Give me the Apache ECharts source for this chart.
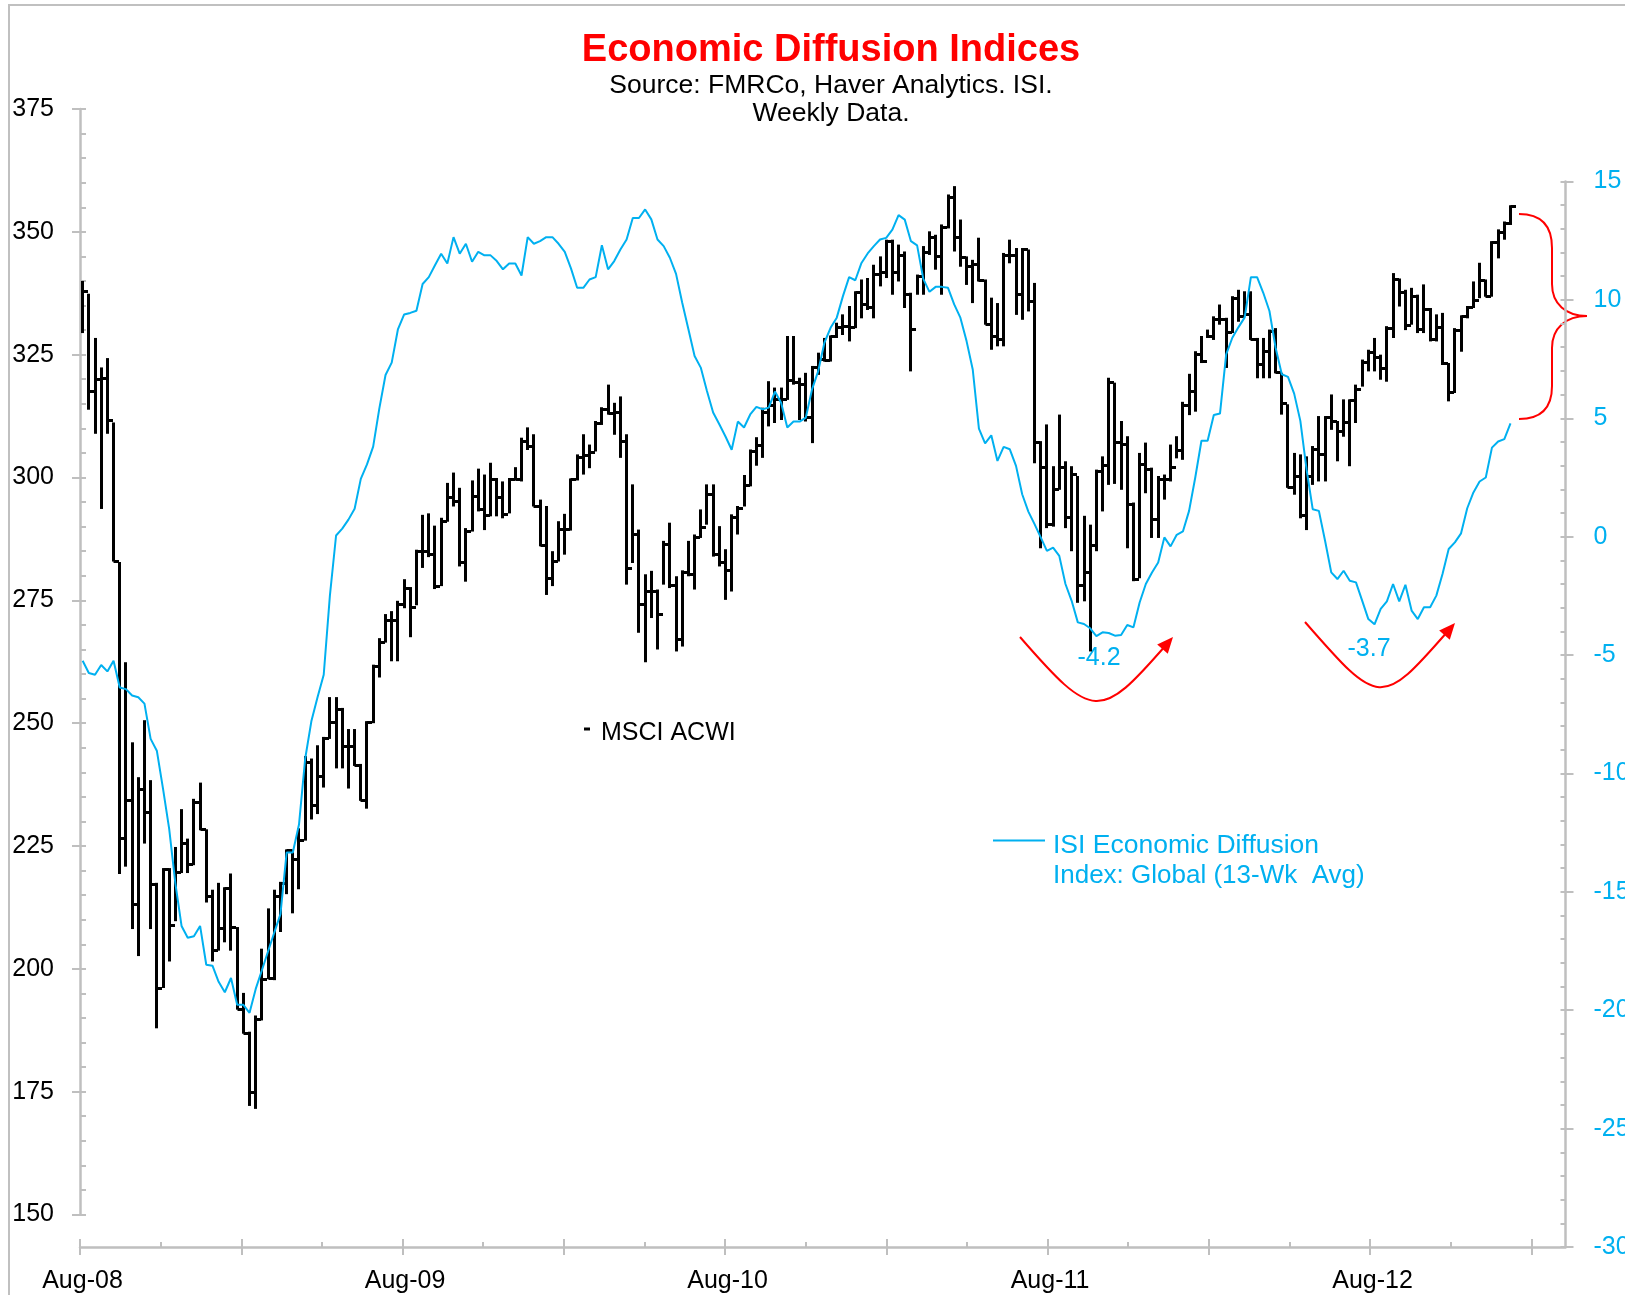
<!DOCTYPE html>
<html><head><meta charset="utf-8">
<script src="https://cdn.jsdelivr.net/npm/echarts@6/dist/echarts.min.js"></script>
<style>html,body{margin:0;padding:0;background:#fff}#c{width:1625px;height:1295px}</style>
</head><body><div id="c"></div>
<script>
// ---------- data ----------
const weekStart = '2008-08-04';          // first weekly observation
const axisOrigin = '2008-08-01';         // "Aug-08" tick
const xAxisMaxMonths = 55.27;            // right end of the time axis (months after Aug-08)

const acwiHigh = [
339.8,337.2,328.2,322.2,324.1,311.0,282.6,262.2,245.9,238.8,
250.4,238.2,217.3,220.3,220.3,224.6,232.3,226.3,234.4,237.7,
228.2,215.9,217.3,216.4,219.2,208.3,194.9,187.0,190.3,203.9,
212.1,215.9,217.5,224.1,224.1,228.4,243.1,242.6,245.3,247.0,
255.1,255.1,252.9,248.6,248.6,241.5,250.2,261.7,267.1,272.0,
272.6,274.7,279.1,277.5,285.1,292.2,292.5,290.0,291.6,298.7,
300.8,297.7,289.5,299.2,301.6,300.4,302.8,299.7,299.0,299.7,
301.9,307.9,310.0,308.6,295.3,294.0,284.8,290.9,292.4,299.6,
304.5,308.6,306.5,311.3,314.1,318.7,315.0,316.3,308.6,298.4,
289.2,280.1,280.8,277.0,286.9,290.6,279.7,280.9,286.9,288.2,
293.3,298.4,298.4,289.9,285.2,292.3,294.0,300.3,305.5,308.0,
314.0,319.4,318.1,318.1,328.6,328.6,320.1,321.1,322.5,325.2,
328.2,328.7,331.3,333.0,334.7,337.7,340.1,340.4,343.1,344.8,
348.2,348.2,347.2,345.8,337.4,341.1,346.9,349.9,349.2,351.3,
357.4,359.1,352.3,344.8,344.1,348.6,340.1,336.4,335.3,345.5,
348.2,346.5,346.5,346.2,339.4,307.2,310.6,302.1,312.6,303.1,
302.1,300.1,292.0,290.2,301.4,304.1,320.1,319.1,311.3,308.2,
294.7,304.8,306.9,301.8,300.1,300.4,306.5,308.2,315.2,320.9,
325.5,328.6,329.9,332.6,335.0,332.3,336.7,338.0,337.7,337.7,
328.2,328.2,329.9,330.2,321.1,314.7,304.8,304.5,304.1,306.2,
312.3,312.3,316.7,311.3,315.7,315.7,318.7,323.8,325.8,328.2,
324.8,330.6,341.4,340.3,338.0,338.4,337.0,339.1,334.3,333.0,
333.3,323.1,330.2,332.8,334.7,339.7,343.5,340.1,347.9,350.3,
351.9,355.2];

const acwiLow = [
329.6,314.0,309.1,293.8,309.1,283.1,219.5,221.0,208.3,202.8,
225.7,208.3,188.1,196.3,201.7,209.9,219.7,219.7,221.3,228.4,
213.7,201.7,203.9,205.6,203.9,191.9,187.0,172.3,171.7,189.7,
198.1,197.9,207.7,215.4,211.5,216.4,226.3,230.6,231.7,237.1,
247.0,241.0,241.0,236.9,241.5,234.4,232.8,250.2,259.5,266.6,
262.8,262.8,273.6,267.7,274.2,281.8,284.0,277.5,278.1,291.2,
294.3,282.1,279.0,289.2,293.3,289.5,292.3,292.3,291.9,292.9,
299.6,299.4,305.8,294.3,286.2,276.3,278.1,283.1,284.5,289.4,
299.6,300.8,302.1,305.5,310.9,313.0,308.9,304.2,278.4,282.8,
268.6,262.6,271.6,265.2,278.4,277.7,264.8,265.8,280.1,277.4,
287.9,290.6,284.1,282.1,275.3,277.0,288.6,294.3,298.4,302.6,
304.2,310.6,311.3,311.9,316.0,319.1,311.9,311.6,307.2,321.1,
323.8,323.8,328.6,329.2,327.9,330.6,332.6,334.3,332.6,339.1,
340.8,337.4,340.1,334.7,321.8,337.4,337.4,345.5,342.5,337.4,
350.9,346.2,343.1,339.4,335.7,340.1,331.3,326.2,326.9,326.9,
343.8,333.3,332.3,334.0,303.1,285.8,289.9,290.2,297.7,289.9,
285.2,274.7,275.0,264.8,285.2,293.3,298.7,298.9,297.7,285.8,
279.1,279.7,297.0,287.9,287.9,295.7,299.4,304.1,303.8,312.9,
313.6,323.5,328.6,328.2,331.3,322.5,329.6,331.9,333.3,328.2,
320.4,320.4,320.4,321.4,313.0,298.1,296.7,291.9,289.5,298.7,
299.4,299.4,309.9,303.5,308.5,302.5,311.3,318.7,321.8,321.8,
320.1,319.7,328.6,335.0,330.2,331.3,329.6,329.6,327.9,327.9,
323.1,315.7,317.4,325.8,332.6,334.7,336.7,337.0,337.0,344.8,
348.6,351.6];

const acwiClose = [
338.0,317.6,320.0,320.2,311.8,283.1,226.6,234.4,213.2,236.6,
231.9,217.3,196.0,220.3,209.0,219.7,225.7,221.3,233.9,228.4,
214.8,203.9,208.3,216.4,208.6,191.9,187.0,175.0,189.7,197.9,
198.1,214.8,217.5,224.1,222.4,226.3,242.0,233.3,239.3,247.0,
250.2,252.9,245.3,245.3,241.5,234.4,250.2,261.7,266.6,270.9,
270.9,274.2,277.5,273.6,285.1,285.1,284.5,278.0,291.2,296.0,
295.3,282.8,289.2,296.2,293.5,292.4,299.6,296.0,292.6,299.7,
299.6,307.5,306.5,294.3,286.3,279.5,283.1,289.5,289.5,299.6,
304.1,304.5,305.2,311.1,314.0,313.2,313.4,307.5,281.5,288.6,
274.3,277.0,277.0,272.3,286.5,278.1,267.2,280.8,280.4,287.9,
289.9,296.7,284.5,282.9,281.1,292.0,293.8,298.5,305.3,306.7,
313.3,314.7,316.0,315.9,319.8,319.5,319.1,312.3,322.5,324.1,
324.0,328.7,330.6,330.9,330.6,337.7,335.3,334.7,341.4,341.8,
348.2,341.8,345.2,337.4,330.2,341.1,345.8,348.9,345.0,350.9,
357.0,348.9,344.8,343.1,343.5,340.1,331.3,328.9,328.2,345.2,
345.2,337.4,346.5,336.0,307.2,302.1,290.6,297.7,302.1,292.0,
300.8,278.1,280.8,286.2,301.4,302.5,319.4,307.2,306.9,294.7,
279.4,302.8,301.8,291.6,299.7,299.7,302.1,305.5,314.7,317.7,
325.2,323.8,328.8,332.3,332.2,329.6,336.5,332.9,333.3,328.2,
323.1,325.8,329.9,321.4,315.2,298.1,300.4,292.3,300.4,305.8,
304.8,312.3,311.4,309.5,311.3,315.7,318.1,323.5,325.6,324.5,
322.2,330.4,340.3,337.7,331.0,336.9,330.2,334.3,328.1,330.6,
323.3,317.4,330.1,332.8,334.7,336.2,340.1,337.0,347.9,349.9,
351.8,355.2];

const isiDiffusion = [
-5.24,-5.76,-5.83,-5.42,-5.69,-5.24,-6.37,-6.44,-6.71,-6.78,
-7.05,-8.54,-9.04,-10.64,-12.34,-14.64,-16.44,-16.94,-16.88,-16.44,
-18.08,-18.12,-18.80,-19.24,-18.64,-19.77,-19.77,-20.11,-19.10,-18.31,
-17.51,-16.72,-15.94,-13.34,-13.34,-12.16,-9.38,-7.80,-6.78,-5.83,
-2.49,0.05,0.34,0.72,1.18,2.44,3.05,3.80,5.42,6.83,
7.35,8.75,9.38,9.45,9.54,10.67,10.96,11.46,11.95,11.54,
12.65,11.95,12.37,11.61,12.03,11.88,11.88,11.64,11.29,11.54,
11.54,11.03,12.65,12.37,12.48,12.65,12.65,12.37,12.03,11.33,
10.51,10.51,10.86,10.96,12.31,11.29,11.64,12.13,12.55,13.46,
13.46,13.82,13.40,12.55,12.27,11.78,11.10,9.88,8.76,7.63,
7.14,6.15,5.24,4.75,4.23,3.67,4.86,4.61,5.16,5.48,
5.38,5.45,6.13,5.66,4.61,4.86,4.86,5.03,6.22,6.99,
8.19,8.82,9.25,10.16,10.96,10.83,11.56,11.96,12.27,12.55,
12.62,12.97,13.58,13.39,12.48,12.30,10.89,10.34,10.55,10.55,
10.51,9.81,9.25,8.26,7.06,4.56,3.94,4.28,3.20,3.79,
3.69,2.99,1.79,1.06,0.53,-0.03,-0.60,-0.46,-0.81,-2.00,
-2.71,-3.62,-3.69,-3.87,-4.20,-4.04,-4.07,-4.18,-4.15,-3.73,
-3.83,-2.78,-2.00,-1.51,-1.09,-0.03,-0.41,0.08,0.22,1.09,
2.50,4.05,4.05,5.14,5.20,7.70,8.40,8.85,9.26,10.96,
10.96,10.30,9.53,7.98,6.86,6.75,6.04,4.89,2.85,1.16,
1.09,-0.17,-1.51,-1.79,-1.44,-1.86,-1.93,-2.70,-3.48,-3.70,
-3.05,-2.73,-2.00,-2.73,-2.03,-3.12,-3.48,-2.98,-2.98,-2.49,
-1.58,-0.52,-0.24,0.14,1.20,1.87,2.33,2.50,3.76,4.02,
4.12,4.78];

const xTickLabels = ['Aug-08','Aug-09','Aug-10','Aug-11','Aug-12'];
const xLabelMonths = [0,12,24,36,48];
const xMajorTickMonths = [0,6,12,18,24,30,36,42,48,54];
const xMinorTickMonths = [0,3,6,9,12,15,18,21,24,27,30,33,36,39,42,45,48,51,54];

// ---------- helpers ----------
const DAY = 86400000, MONTH_DAYS = 365.25 / 12;
const t0 = Date.parse(axisOrigin + 'T00:00:00Z');
const tStart = Date.parse(weekStart + 'T00:00:00Z');
const weekX = i => ((tStart - t0) / DAY + 7 * i) / MONTH_DAYS;

const hlcData = acwiHigh.map((h, i) => [weekX(i), h, acwiLow[i], acwiClose[i]]);
const isiData = isiDiffusion.map((v, i) => [weekX(i), v]);

const GRAY = '#BFBFBF', BLUE = '#00B0F0', RED = '#FF0000';
const FONT = "'Liberation Sans', Arial, sans-serif";

const chart = echarts.init(document.getElementById('c'), null, {renderer: 'canvas'});

const baseX = (grid) => ({
  type: 'value', gridIndex: grid, min: 0, max: xAxisMaxMonths, position: 'bottom',
  axisLine: {show: false, onZero: false}, axisTick: {show: false}, axisLabel: {show: false}, splitLine: {show: false}
});

const redCurve = (x1, y1, c1x, c1y, c2x, c2y, x2, y2) => ({
  type: 'bezierCurve',
  shape: {x1: x1, y1: y1, cpx1: c1x, cpy1: c1y, cpx2: c2x, cpy2: c2y, x2: x2, y2: y2},
  style: {fill: null, stroke: RED, lineWidth: 2}
});
const redLine = (x1, y1, x2, y2) => ({
  type: 'line', shape: {x1: x1, y1: y1, x2: x2, y2: y2}, style: {stroke: RED, lineWidth: 2}
});

const tickStyle = {color: GRAY, width: 2};

const option = {
  animation: false,
  backgroundColor: '#fff',
  grid: [
    {left: 80, right: 59.5, top: 109, height: 1105.5, containLabel: false, outerBoundsMode: 'none'},
    {left: 80, right: 59.5, top: 181.5, height: 1065.5, containLabel: false, outerBoundsMode: 'none'}
  ],
  xAxis: [
    baseX(0),
    Object.assign(baseX(1), {
      axisLine: {show: true, onZero: false, lineStyle: {color: GRAY, width: 2.5}},
      axisTick: {show: true, inside: false, length: 8, customValues: xMajorTickMonths, lineStyle: tickStyle},
      axisLabel: {show: true, customValues: xLabelMonths, margin: 22, padding: [0, 0, 0, 5],
        color: '#000', fontSize: 25, fontFamily: FONT,
        formatter: v => xTickLabels[xLabelMonths.indexOf(Math.round(v))] || ''}
    }),
    Object.assign(baseX(1), {
      axisTick: {show: true, inside: true, length: 8, customValues: xMajorTickMonths, lineStyle: tickStyle}
    }),
    Object.assign(baseX(1), {
      axisTick: {show: true, inside: true, length: 5, customValues: xMinorTickMonths, lineStyle: tickStyle}
    })
  ],
  yAxis: [
    {
      type: 'value', gridIndex: 0, position: 'left', min: 150, max: 375, interval: 25,
      axisLine: {show: true, onZero: false, lineStyle: {color: GRAY, width: 2.5}},
      axisTick: {show: true, inside: false, length: 8, lineStyle: tickStyle},
      axisLabel: {show: true, margin: 26, color: '#000', fontSize: 25, fontFamily: FONT},
      splitLine: {show: false}
    },
    {
      type: 'value', gridIndex: 0, position: 'left', min: 150, max: 375, interval: 5,
      axisLine: {show: false, onZero: false},
      axisTick: {show: true, inside: true, length: 6, lineStyle: tickStyle},
      axisLabel: {show: false}, splitLine: {show: false}
    },
    {
      type: 'value', gridIndex: 1, position: 'right', min: -30, max: 15, interval: 5,
      axisLine: {show: true, onZero: false, lineStyle: {color: GRAY, width: 2.5}},
      axisTick: {show: true, inside: false, length: 8, lineStyle: tickStyle},
      axisLabel: {show: true, margin: 28, color: BLUE, fontSize: 25, fontFamily: FONT},
      splitLine: {show: false}
    },
    {
      type: 'value', gridIndex: 1, position: 'right', min: -30, max: 15, interval: 1,
      axisLine: {show: false, onZero: false},
      axisTick: {show: true, inside: true, length: 5, lineStyle: tickStyle},
      axisLabel: {show: false}, splitLine: {show: false}
    }
  ],
  series: [
    {
      name: 'MSCI ACWI', type: 'custom', xAxisIndex: 0, yAxisIndex: 0,
      data: hlcData, encode: {x: 0, y: [1, 2, 3]}, z: 2,
      renderItem: function (params, api) {
        const x = api.value(0);
        const pH = api.coord([x, api.value(1)]);
        const pL = api.coord([x, api.value(2)]);
        const pC = api.coord([x, api.value(3)]);
        const px = Math.floor(pH[0]) + 0.5;
        return {
          type: 'group',
          children: [
            {type: 'line', shape: {x1: px, y1: pH[1] - 1, x2: px, y2: pL[1] + 1},
             style: {stroke: '#000', lineWidth: 3}},
            {type: 'line', shape: {x1: px, y1: Math.round(pC[1]) + 0.5, x2: px + 5.5, y2: Math.round(pC[1]) + 0.5},
             style: {stroke: '#000', lineWidth: 3}}
          ]
        };
      }
    },
    {
      name: 'ISI Economic Diffusion Index: Global (13-Wk Avg)', type: 'line',
      xAxisIndex: 1, yAxisIndex: 2, data: isiData, symbol: 'none', showSymbol: false, z: 3,
      lineStyle: {color: BLUE, width: 2}
    }
  ],
  graphic: [
    {type: 'rect', silent: true, z: -10, shape: {x: 9, y: 5, width: 1700, height: 1400},
     style: {fill: null, stroke: '#C0C0C0', lineWidth: 2}},
    {type: 'text', x: 831, y: 50.5, style: {text: 'Economic Diffusion Indices', fill: RED,
      font: "bold 38px " + FONT, align: 'center', verticalAlign: 'middle'}},
    {type: 'text', x: 831, y: 85.5, style: {text: 'Source: FMRCo, Haver Analytics. ISI.', fill: '#000',
      font: "26.5px " + FONT, align: 'center', verticalAlign: 'middle'}},
    {type: 'text', x: 831, y: 114, style: {text: 'Weekly Data.', fill: '#000',
      font: "26.5px " + FONT, align: 'center', verticalAlign: 'middle'}},
    // legend: MSCI ACWI
    {type: 'rect', shape: {x: 584, y: 727.5, width: 6, height: 3}, style: {fill: '#000'}},
    {type: 'text', x: 601, y: 733, style: {text: 'MSCI ACWI', fill: '#000',
      font: "25px " + FONT, align: 'left', verticalAlign: 'middle'}},
    // legend: ISI
    {type: 'line', shape: {x1: 993, y1: 840.5, x2: 1045, y2: 840.5}, style: {stroke: BLUE, lineWidth: 2}},
    {type: 'text', x: 1053, y: 845.5, style: {text: 'ISI Economic Diffusion', fill: BLUE,
      font: "26.5px " + FONT, align: 'left', verticalAlign: 'middle'}},
    {type: 'text', x: 1053, y: 875.5, style: {text: 'Index: Global (13-Wk  Avg)', fill: BLUE,
      font: "26px " + FONT, align: 'left', verticalAlign: 'middle'}},
    // annotations
    {type: 'text', x: 1099, y: 658.5, style: {text: '-4.2', fill: BLUE,
      font: "25px " + FONT, align: 'center', verticalAlign: 'middle'}},
    {type: 'text', x: 1369, y: 649.5, style: {text: '-3.7', fill: BLUE,
      font: "25px " + FONT, align: 'center', verticalAlign: 'middle'}},
    redCurve(1020, 637, 1093, 721, 1100, 721, 1166, 645),
    {type: 'polygon', shape: {points: [[1173, 637], [1167.8, 653.7], [1157.2, 644.5]]}, style: {fill: RED}},
    redCurve(1305, 622, 1379, 707, 1381, 708, 1448, 631),
    {type: 'polygon', shape: {points: [[1455, 623], [1449.8, 639.7], [1439.2, 630.5]]}, style: {fill: RED}},
    // brace
    redCurve(1519, 214, 1541, 214, 1552, 226, 1552, 248),
    redLine(1552, 248, 1552, 284),
    redCurve(1552, 284, 1552, 304, 1566, 316, 1587, 316),
    redCurve(1587, 316, 1566, 316, 1552, 328, 1552, 348),
    redLine(1552, 348, 1552, 386),
    redCurve(1552, 386, 1552, 408, 1541, 419, 1519, 419)
  ]
};
chart.setOption(option);
</script>
</body></html>
